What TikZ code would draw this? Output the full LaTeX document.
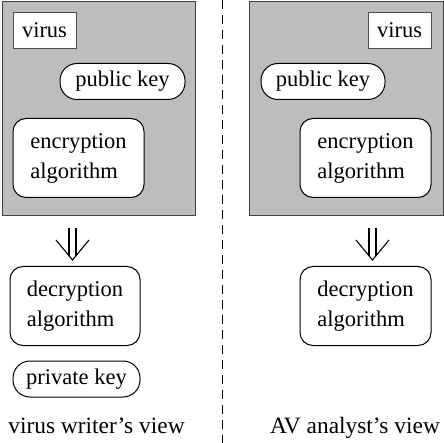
\documentclass[tikz,border=0pt]{standalone}
\usepackage{fontspec}
\setmainfont{Liberation Serif}
\usetikzlibrary{calc}

\begin{document}
\begin{tikzpicture}[x=1pt,y=-1pt,
  every node/.style={font=\fontsize{22.5}{30}\selectfont},
  shell/.style={draw=black!75,fill=black!26,line width=0.8pt,inner sep=0pt},
  plainbox/.style={draw=black!70,fill=white,line width=0.8pt,inner sep=0pt},
  algbox/.style={draw,fill=white,rounded corners=13pt,line width=1pt,align=left,inner sep=0pt,
    minimum width=131pt,minimum height=79pt},
  keybox/.style={draw,fill=white,rounded corners=17pt,line width=1pt,inner sep=0pt,minimum height=36pt},
  viewlabel/.style={font=\fontsize{23.4}{28}\selectfont,inner sep=0pt,anchor=base}]
  \useasboundingbox (0,0) rectangle (444,443);
  % virus writer
  \node[shell,minimum width=193pt,minimum height=214pt] (lshell) at (98.5,108) {};
  \node[plainbox,minimum width=63pt,minimum height=36pt] (lvirus) at (44.5,30) {virus};
  \node[keybox,minimum width=125pt] (lpub) at (122.5,81.5) {public key};
  \node[algbox] (lenc) at (78.5,158) {encryption\\algorithm};
  \node[algbox,minimum width=130pt] (ldec) at (75,306) {decryption\\algorithm};
  \node[keybox,minimum width=127pt] (lpriv) at (76.5,379) {private key};
  % AV analyst
  \node[shell,minimum width=194pt,minimum height=214pt] (rshell) at (346,108) {};
  \node[plainbox,minimum width=63pt,minimum height=36pt] (rvirus) at (399.5,30) {virus};
  \node[keybox,minimum width=124pt] (rpub) at (323,81.5) {public key};
  \node[algbox] (renc) at (365.5,158) {encryption\\algorithm};
  \node[algbox] (rdec) at (365.5,306) {decryption\\algorithm};
  % arrows
  \coordinate (ltip) at (72.5,260);
  \coordinate (rtip) at (372.5,260);
  \foreach \t in {ltip,rtip} {
    \draw[line width=1.1pt] ($(\t)+(-3.5,-32)$) -- ($(\t)+(-3.5,-4)$);
    \draw[line width=1.1pt] ($(\t)+(3.5,-32)$) -- ($(\t)+(3.5,-4)$);
    \draw[line width=1.1pt] ($(\t)+(-16.5,-20)$) -- (\t) -- ($(\t)+(16.5,-20)$);
  }
  \draw[line width=1.5pt,dash pattern=on 9pt off 6pt] (222.5,0) -- (222.5,443);
  \node[viewlabel] (lview) at (96.5,433) {virus writer's view};
  \node[viewlabel] (rview) at (355,433) {AV analyst's view};
\end{tikzpicture}
\end{document}
